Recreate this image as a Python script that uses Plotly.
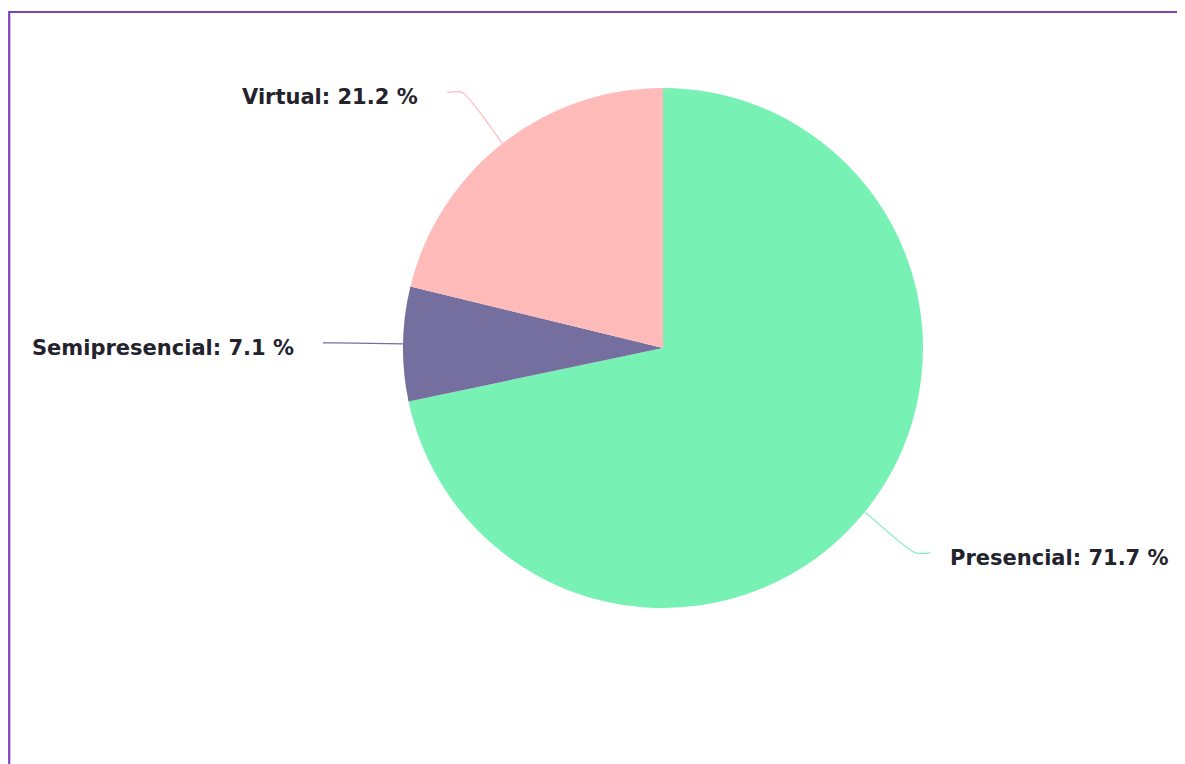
import math

import plotly.graph_objects as go

labels = ["Presencial", "Semipresencial", "Virtual"]
values = [71.7, 7.1, 21.2]
colors = ["#78f2b4", "#756f9f", "#ffbaba"]

W, H = 1185, 764
# the page body adds an 8px offset, so positions are in figure pixels
cx, cy, r = 655, 340, 260
dist = 65

fig = go.Figure()

fig.add_trace(
    go.Pie(
        labels=labels,
        values=values,
        sort=False,
        direction="clockwise",
        rotation=0,
        marker=dict(colors=colors, line=dict(width=0)),
        textinfo="none",
        hoverinfo="label+percent",
        showlegend=False,
        domain=dict(
            x=[(cx - r) / W, (cx + r) / W],
            y=[(H - cy - r) / H, (H - cy + r) / H],
        ),
    )
)

# connectors and labels computed from each slice's mid angle
total = sum(values)
start = 0.0
for name, val, col in zip(labels, values, colors):
    mid = (start + val / 2) / total * 2 * math.pi
    start += val
    s, c = math.sin(mid), math.cos(mid)
    side = 1 if s >= 0 else -1
    x0, y0 = cx + r * s, cy - r * c
    x1, y1 = cx + (r + dist) * s, cy - (r + dist) * c
    x2 = x1 + side * 15
    fig.add_trace(
        go.Scatter(
            x=[x0, x1, x2],
            y=[y0, y1, y1],
            mode="lines",
            line=dict(color=col, width=1.2, shape="spline", smoothing=0.6),
            hoverinfo="skip",
            showlegend=False,
        )
    )
    fig.add_annotation(
        x=x2 + side * (18 if side > 0 else 27),
        y=y1,
        xref="x",
        yref="y",
        yshift=-5,
        text=f"<b>{name}: {val:.1f} %</b>",
        showarrow=False,
        xanchor="left" if side > 0 else "right",
        yanchor="middle",
        font=dict(family="DejaVu Sans", size=21, color="#23232e"),
    )

# purple frame, running off the right and bottom edges
fig.add_shape(
    type="rect",
    xref="x",
    yref="y",
    x0=1.2,
    y0=4,
    x1=W + 20,
    y1=H + 20,
    line=dict(color="#7d44b8", width=2.2),
)

fig.update_xaxes(range=[0, W], visible=False, fixedrange=True)
fig.update_yaxes(range=[H, 0], visible=False, fixedrange=True)
fig.update_layout(
    width=W,
    height=H,
    margin=dict(l=0, r=0, t=0, b=0),
    paper_bgcolor="white",
    plot_bgcolor="rgba(0,0,0,0)",
)

fig.write_html("out.html")
